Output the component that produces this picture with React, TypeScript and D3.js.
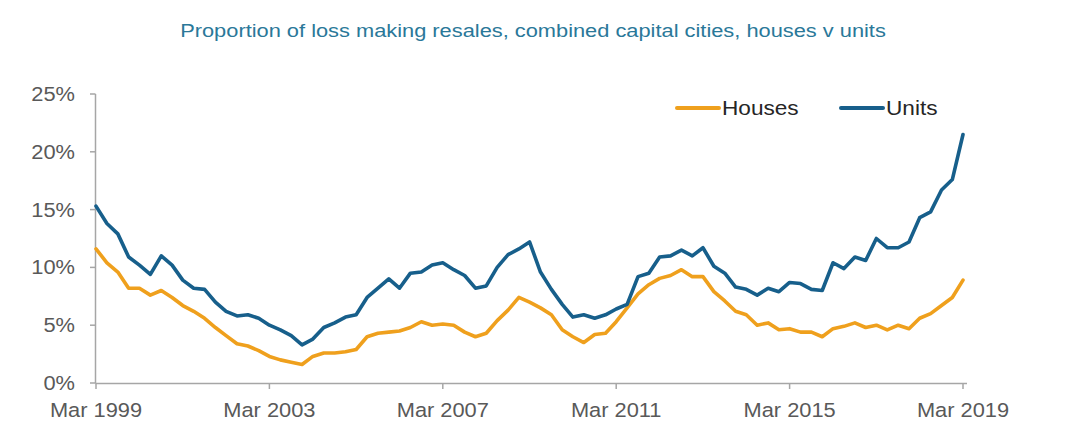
import React from 'react';
import * as d3 from 'd3';

// quarterly readings, Mar 1999 .. Mar 2019 (percent of resales made at a loss)
const startDate = new Date(1999, 2, 1);
const housesValues = [
  11.6, 10.4, 9.6, 8.2, 8.2, 7.6, 8.0, 7.4, 6.7, 6.2, 5.6, 4.8, 4.1, 3.4, 3.2, 2.8,
  2.3, 2.0, 1.8, 1.6, 2.3, 2.6, 2.6, 2.7, 2.9, 4.0, 4.3, 4.4, 4.5, 4.8, 5.3, 5.0,
  5.1, 5.0, 4.4, 4.0, 4.3, 5.4, 6.3, 7.4, 7.0, 6.5, 5.9, 4.6, 4.0, 3.5, 4.2, 4.3,
  5.3, 6.5, 7.7, 8.5, 9.05, 9.3, 9.8, 9.2, 9.2, 7.9, 7.1, 6.2, 5.9, 5.0, 5.2, 4.6,
  4.7, 4.4, 4.4, 4.0, 4.7, 4.9, 5.2, 4.8, 5.0, 4.6, 5.0, 4.7, 5.6, 6.0, 6.7, 7.4,
  8.9
];
const unitsValues = [
  15.3, 13.8, 12.9, 10.9, 10.2, 9.4, 11.0, 10.2, 8.9, 8.2, 8.1, 7.0, 6.2, 5.8, 5.9, 5.6,
  5.0, 4.6, 4.1, 3.3, 3.8, 4.8, 5.2, 5.7, 5.9, 7.4, 8.2, 9.0, 8.2, 9.5, 9.6, 10.2,
  10.4, 9.8, 9.3, 8.2, 8.4, 10.0, 11.1, 11.6, 12.2, 9.6, 8.1, 6.8, 5.7, 5.9, 5.6, 5.9,
  6.4, 6.8, 9.2, 9.5, 10.9, 11.0, 11.5, 11.0, 11.7, 10.1, 9.5, 8.3, 8.1, 7.6, 8.2, 7.9,
  8.7, 8.6, 8.1, 8.0, 10.4, 9.9, 10.9, 10.6, 12.5, 11.7, 11.7, 12.2, 14.3, 14.8, 16.7, 17.6,
  21.5
];
const seriesNames = ['Houses', 'Units'];
const seriesColors = ['#efa01d', '#175f8b'];
const yTicks = [0, 5, 10, 15, 20, 25];
const xTickYears = [1999, 2003, 2007, 2011, 2015, 2019];

const W = 1080, H = 440;
const font = '"Liberation Sans", Arial, sans-serif';

// the source image is a bit stretched sideways, so text is widened to match
function Label(props: { x: number; y: number; size: number; fill: string; anchor?: string; sx?: number; dy?: string; children: any }) {
  const { x, y, size, fill, anchor = 'start', sx = 1.14, dy } = props;
  return (
    <text transform={`translate(${x},${y}) scale(${sx},1)`} dy={dy} textAnchor={anchor}
      fontFamily={font} fontSize={size} fill={fill}>
      {props.children}
    </text>
  );
}

export default function App() {
  const x = d3.scaleTime()
    .domain([startDate, new Date(2019, 2, 1)])
    .range([96, 963]);
  const y = d3.scaleLinear().domain([0, 25]).range([383, 94]);

  const toPoints = (vals: number[]) =>
    vals.map((v, i) => ({ date: d3.timeMonth.offset(startDate, i * 3), value: v }));

  const line = d3.line<{ date: Date; value: number }>()
    .x(d => x(d.date))
    .y(d => y(d.value));

  const series = [toPoints(housesValues), toPoints(unitsValues)];
  const axisColor = '#a6a6a6';

  return (
    <svg width={W} height={H} style={{ position: 'absolute', left: 0, top: 0, background: '#fff' }}>
      <Label x={533} y={37} size={18.5} fill="#2a7899" anchor="middle" sx={1.18}>
        Proportion of loss making resales, combined capital cities, houses v units
      </Label>

      {/* y axis */}
      <line x1={95.5} x2={95.5} y1={y(25)} y2={y(0)} stroke={axisColor} strokeWidth={1.5} />
      {yTicks.map(t => (
        <g key={t}>
          <line x1={90} x2={95.5} y1={y(t)} y2={y(t)} stroke={axisColor} strokeWidth={1.5} />
          <Label x={75} y={y(t)} dy="0.36em" anchor="end" size={19.5} fill="#595959" sx={1.12}>
            {t + '%'}
          </Label>
        </g>
      ))}

      {/* x axis */}
      <line x1={95.5} x2={967} y1={y(0) + 0.5} y2={y(0) + 0.5} stroke={axisColor} strokeWidth={1.5} />
      {xTickYears.map(yr => {
        const px = x(new Date(yr, 2, 1));
        return (
          <g key={yr}>
            <line x1={px} x2={px} y1={y(0)} y2={y(0) + 6} stroke={axisColor} strokeWidth={1.5} />
            <Label x={px} y={417} anchor="middle" size={19.5} fill="#595959" sx={1.12}>
              {'Mar ' + yr}
            </Label>
          </g>
        );
      })}

      {series.map((s, i) => (
        <path key={seriesNames[i]} d={line(s) || ''} fill="none" stroke={seriesColors[i]}
          strokeWidth={3.6} strokeLinejoin="round" strokeLinecap="round" />
      ))}

      {/* legend */}
      {seriesNames.map((name, i) => {
        const lx = i === 0 ? 677 : 841;
        return (
          <g key={name}>
            <line x1={lx} x2={lx + 42} y1={108} y2={108} stroke={seriesColors[i]} strokeWidth={4} strokeLinecap="round" />
            <Label x={lx + 45} y={108} dy="0.36em" size={19.5} fill="#262626" sx={1.16}>
              {name}
            </Label>
          </g>
        );
      })}
    </svg>
  );
}
